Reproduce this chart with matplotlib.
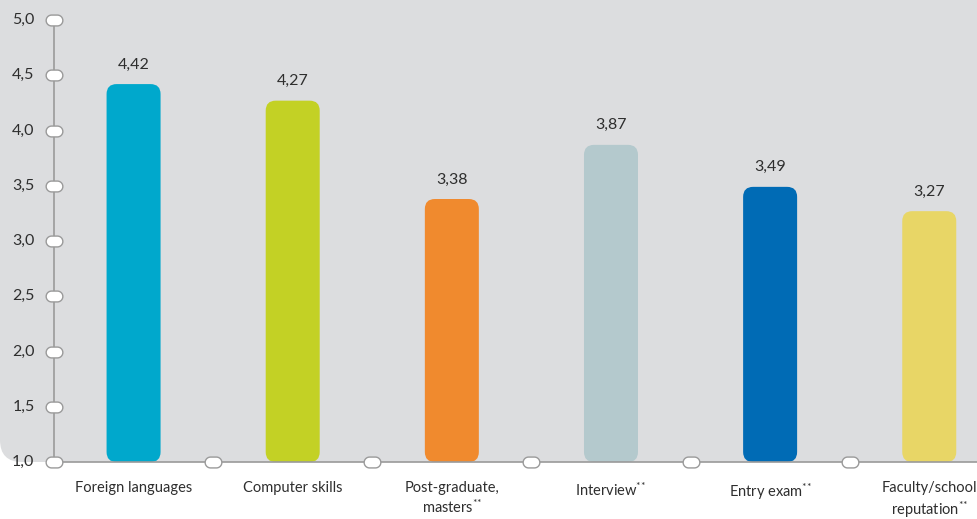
import numpy as np
import matplotlib
matplotlib.use("Agg")
from matplotlib import pyplot as plt
from matplotlib.patches import FancyBboxPatch
from matplotlib.path import Path
from matplotlib.transforms import IdentityTransform

# DATA ########################################################################

categories = ["Foreign languages", "Computer skills", "Post-graduate,\nmasters$^{{*}{*}}$",
              "Interview$^{{*}{*}}$", "Entry exam$^{{*}{*}}$",
              "Faculty/school\nreputation$^{{*}{*}}$"]
values = [4.42, 4.27, 3.38, 3.87, 3.49, 3.27]
value_labels = ["4,42", "4,27", "3,38", "3,87", "3,49", "3,27"]
colors = ["#00a8cc", "#c3d125", "#f08a2e", "#b4c9cd", "#006bb5", "#e8d666"]
yticks = [1.0, 1.5, 2.0, 2.5, 3.0, 3.5, 4.0, 4.5, 5.0]
ytick_labels = ["1,0", "1,5", "2,0", "2,5", "3,0", "3,5", "4,0", "4,5", "5,0"]

BG = "#dcdddf"
AXIS = "#9a9a9a"
TEXT = "#2e2e2e"

plt.rcParams['font.family'] = ['Lato', 'DejaVu Sans']
plt.rcParams['mathtext.default'] = 'regular'

W, H, DPI = 977, 519, 100
fig = plt.figure(figsize=(W / DPI, H / DPI), dpi=DPI)

# GRAY BACKGROUND (rounded bottom-left corner) ################################
ax_bottom_px = 57
bg = FancyBboxPatch((0, ax_bottom_px), W + 60, H, boxstyle="round,pad=0,rounding_size=22",
                    transform=IdentityTransform(), fc=BG, ec="none", zorder=-5)
fig.patches.append(bg)

ax = fig.add_axes([54 / W, ax_bottom_px / H, (W - 54) / W, 442 / H])
ax.patch.set_visible(False)
ax.set_ylim(1.0, 5.0)
ax.set_xlim(-0.5, 5.3)
for s in ax.spines.values():
    s.set_visible(False)
ax.set_xticks([])
ax.set_yticks([])

# px per data unit to keep bar corners circular
bbox = ax.get_window_extent()
px_x = bbox.width / 5.8
px_y = bbox.height / 4.0
aspect = px_x / px_y

bar_w = 54 / px_x
radius = 10 / px_x
x = np.arange(len(values))
for xi, v, c, lab in zip(x, values, colors, value_labels):
    p = FancyBboxPatch((xi - bar_w / 2, 1.0), bar_w, v - 1.0,
                       boxstyle="round,pad=0,rounding_size=%f" % radius,
                       mutation_aspect=aspect, fc=c, ec="none", zorder=2)
    ax.add_patch(p)
    ax.annotate(lab, (xi, v), xytext=(0, 9), textcoords="offset points",
                ha="center", va="bottom", fontsize=11.5, color=TEXT)

# axes lines
ax.plot([-0.5, -0.5], [1.0, 5.0], color=AXIS, lw=1.2, zorder=3, clip_on=False)
ax.plot([-0.5, 5.3], [1.0, 1.0], color=AXIS, lw=1.2, zorder=3, clip_on=False)

# pill-shaped markers
t = np.linspace(-np.pi / 2, np.pi / 2, 20)
r = 0.65
right = np.column_stack([0.35 + r * np.cos(t), r * np.sin(t)])
left = np.column_stack([-0.35 - r * np.cos(t), -r * np.sin(t)])
verts = np.vstack([right, left, right[:1]])
pill = Path(verts, closed=True)

ax.plot(np.full(len(yticks), -0.5), yticks, ls="none", marker=pill, ms=12,
        mfc="white", mec=AXIS, mew=1.0, zorder=4, clip_on=False)
ax.plot(x[:-1] + 0.5, np.ones(len(x) - 1), ls="none", marker=pill, ms=12,
        mfc="white", mec=AXIS, mew=1.0, zorder=4, clip_on=False)

for yv, lab in zip(yticks, ytick_labels):
    ax.annotate(lab, (-0.5, yv), xytext=(-14, 0), textcoords="offset points",
                ha="right", va="center", fontsize=11.5, color=TEXT, annotation_clip=False)

for xi, lab in zip(x, categories):
    ax.annotate(lab, (xi, 1.0), xytext=(0, -14), textcoords="offset points",
                ha="center", va="top", fontsize=10.5, color=TEXT,
                linespacing=1.25, annotation_clip=False)

fig.savefig("out.png", dpi=DPI, facecolor="white")
